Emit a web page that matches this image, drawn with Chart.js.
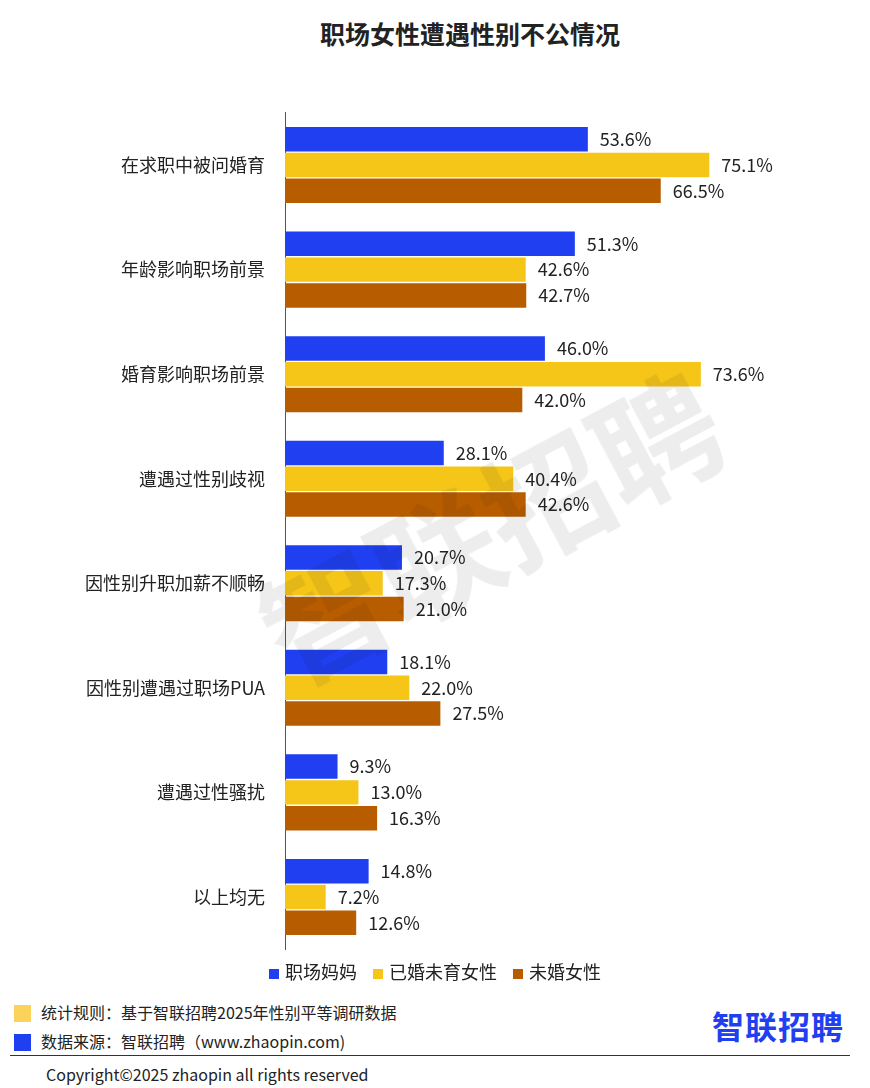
<!DOCTYPE html>
<html><head><meta charset="utf-8">
<script src="https://cdn.jsdelivr.net/npm/chart.js"></script>
<style>
body{margin:0;width:870px;height:1088px;background:#fff;font-family:"Noto Sans CJK SC","Noto Sans",sans-serif;position:relative;overflow:hidden;color:#222}
#title{position:absolute;top:15px;left:35px;width:100%;text-align:center;font-size:25px;font-weight:bold}
#c{position:absolute;left:0;top:82px}
#legend{position:absolute;top:958px;width:100%;text-align:center;font-size:18px}
#legend span{margin:0 8px}
#legend i{display:inline-block;width:10px;height:10px;margin-right:6px}
.note{position:absolute;left:14px;font-size:16px}
.note i{display:inline-block;width:17px;height:17px;vertical-align:-3px;margin-right:10px}
#logo{position:absolute;right:26px;top:1002px;font-size:32px;font-weight:bold;color:#1f3ff0;letter-spacing:1px}
#line{position:absolute;left:10px;right:20px;top:1055px;border-top:1px solid #333}
#copy{position:absolute;left:46px;top:1062px;font-size:16px}
#wm{position:absolute;left:225px;top:560px;font-size:125px;font-weight:bold;color:rgba(0,0,0,0.07);transform:rotate(-28deg);transform-origin:left top;pointer-events:none;white-space:nowrap}
</style></head><body>
<div id="title">职场女性遭遇性别不公情况</div>
<canvas id="c" width="870" height="898"></canvas>
<div id="wm">智联招聘</div>
<div id="legend"><span><i style="background:#1f3ff0"></i>职场妈妈</span><span><i style="background:#f5c518"></i>已婚未育女性</span><span><i style="background:#b85c00"></i>未婚女性</span></div>
<div class="note" style="top:1000px"><i style="background:#fbd35a"></i>统计规则：基于智联招聘2025年性别平等调研数据</div>
<div class="note" style="top:1029px"><i style="background:#1f3ff0"></i>数据来源：智联招聘（www.zhaopin.com)</div>
<div id="logo">智联招聘</div>
<div id="line"></div>
<div id="copy">Copyright©2025 zhaopin all rights reserved</div>
<script>
const categories = ['在求职中被问婚育','年龄影响职场前景','婚育影响职场前景','遭遇过性别歧视','因性别升职加薪不顺畅','因性别遭遇过职场PUA','遭遇过性骚扰','以上均无'];
const moms = [53.6,51.3,46.0,28.1,20.7,18.1,9.3,14.8];
const marriedNoKids = [75.1,42.6,73.6,40.4,17.3,22.0,13.0,7.2];
const unmarried = [66.5,42.7,42.0,42.6,21.0,27.5,16.3,12.6];

const labelPlugin = {
  id: 'vals',
  afterDatasetsDraw(chart) {
    const ctx = chart.ctx;
    ctx.save();
    ctx.font = '18px "Noto Sans CJK SC", sans-serif';
    ctx.fillStyle = '#222';
    ctx.textBaseline = 'middle';
    chart.data.datasets.forEach((ds, i) => {
      chart.getDatasetMeta(i).data.forEach((bar, j) => {
        ctx.fillText(ds.data[j].toFixed(1) + '%', bar.x + 12, bar.y);
      });
    });
    ctx.restore();
  }
};

new Chart(document.getElementById('c'), {
  type: 'bar',
  data: {
    labels: categories,
    datasets: [
      { label: '职场妈妈', data: moms, backgroundColor: '#1f3ff0' },
      { label: '已婚未育女性', data: marriedNoKids, backgroundColor: '#f5c518' },
      { label: '未婚女性', data: unmarried, backgroundColor: '#b85c00' }
    ]
  },
  options: {
    indexAxis: 'y',
    responsive: false,
    animation: false,
    layout: { padding: { left: 0, right: 20, top: 0, bottom: 0 } },
    datasets: { bar: { categoryPercentage: 0.74, barPercentage: 0.95 } },
    plugins: { legend: { display: false }, tooltip: { enabled: false } },
    scales: {
      x: { min: 0, max: 100, display: false },
      y: {
        grid: { display: false, drawTicks: false },
        border: { color: '#555' },
        ticks: { color: '#222', padding: 20, font: { size: 18, family: '"Noto Sans CJK SC", sans-serif' } },
        afterFit(s) { s.width = 285; }
      }
    }
  },
  plugins: [labelPlugin]
});
</script>
</body></html>
